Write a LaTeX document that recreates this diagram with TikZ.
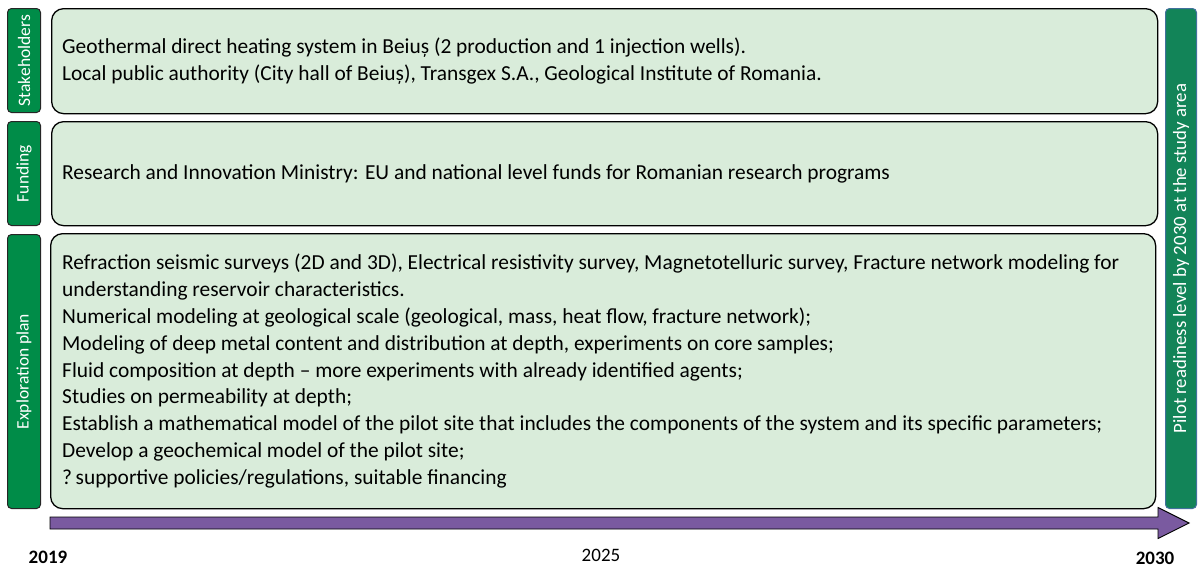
\documentclass[tikz,border=0pt]{standalone}
\usepackage{fontspec}
\setmainfont{Carlito}
\definecolor{boxfill}{RGB}{217,236,218}
\definecolor{labfill}{RGB}{0,140,72}
\definecolor{barfill}{RGB}{18,132,88}
\definecolor{barline}{RGB}{65,113,156}
\definecolor{arrowfill}{RGB}{122,90,160}
\tikzset{
  contentbox/.style={draw=black, line width=1.3pt, fill=boxfill, rounded corners=12pt, anchor=north west, inner sep=0pt},
  labelbox/.style={draw=black!85, line width=1pt, fill=labfill, rounded corners=4pt, anchor=north west, inner sep=0pt},
  labeltext/.style={text=white, rotate=90, font=\fontsize{17.5}{20}\selectfont, inner sep=0pt},
  bodytext/.style={anchor=west, align=left, inner sep=0pt, font=\fontsize{21.4}{26.8}\selectfont},
  yeartext/.style={inner sep=0pt, font=\fontsize{19}{22}\selectfont}
}
\begin{document}
\begin{tikzpicture}[x=1pt,y=-1pt]
\useasboundingbox (0,0) rectangle (1200,570);
% label boxes
\node[labelbox, minimum width=33pt, minimum height=104pt] (stklab) at (7,8) {};
\node[labeltext] (stklabtext) at (stklab.center) {Stakeholders};
\node[labelbox, minimum width=33pt, minimum height=104pt] (fundlab) at (7,121) {};
\node[labeltext] (fundlabtext) at (fundlab.center) {Funding};
\node[labelbox, minimum width=33pt, minimum height=274pt] (explab) at (7,234) {};
\node[labeltext] (explabtext) at (explab.center) {Exploration plan};
% content boxes
\node[contentbox, minimum width=1106pt, minimum height=105pt] (stk) at (51,8) {};
\node[bodytext] (stktext) at ([xshift=11pt]stk.west) {Geothermal direct heating system in Beiuș (2 production and 1 injection wells).\\Local public authority (City hall of Beiuș), Transgex S.A., Geological Institute of Romania.};
\node[contentbox, minimum width=1106pt, minimum height=104pt] (fund) at (51,121) {};
\node[bodytext] (fundtext) at ([xshift=11pt]fund.west) {Research and Innovation Ministry: EU and national level funds for Romanian research programs};
\node[contentbox, minimum width=1105pt, minimum height=275pt] (exp) at (50,233) {};
\node[bodytext] (exptext) at ([xshift=12pt]exp.west) {Refraction seismic surveys (2D and 3D), Electrical resistivity survey, Magnetotelluric survey, Fracture network modeling for\\understanding reservoir characteristics.\\Numerical modeling at geological scale (geological, mass, heat flow, fracture network);\\Modeling of deep metal content and distribution at depth, experiments on core samples;\\Fluid composition at depth -- more experiments with already identified agents;\\Studies on permeability at depth;\\Establish a mathematical model of the pilot site that includes the components of the system and its specific parameters;\\Develop a geochemical model of the pilot site;\\?\,supportive policies/regulations, suitable financing};
% right bar
\node[draw=barline, line width=1pt, fill=barfill, rounded corners=4pt, anchor=north west, inner sep=0pt, minimum width=31pt, minimum height=500pt] (bar) at (1165,8) {};
\node[text=white, rotate=90, inner sep=0pt, font=\fontsize{18.8}{22}\selectfont] (bartext) at (bar.center) {Pilot readiness level by 2030 at the study area};
% timeline arrow
\coordinate (tlstart) at (50,523);
\coordinate (tlend) at (1189,523);
\draw[fill=arrowfill, line width=0.9pt, line join=miter]
  ([yshift=-6pt]tlstart) -- ([xshift=-31pt,yshift=-6pt]tlend) -- ([xshift=-31pt,yshift=-15.5pt]tlend)
  -- (tlend) -- ([xshift=-31pt,yshift=15.5pt]tlend) -- ([xshift=-31pt,yshift=6pt]tlend)
  -- ([yshift=6pt]tlstart) -- cycle;
% years
\node[yeartext, font=\fontsize{19}{22}\selectfont\bfseries] (y2019) at (48,557) {2019};
\node[yeartext] (y2025) at (601,555) {2025};
\node[yeartext, font=\fontsize{19}{22}\selectfont\bfseries] (y2030) at (1155,558) {2030};
\end{tikzpicture}
\end{document}
